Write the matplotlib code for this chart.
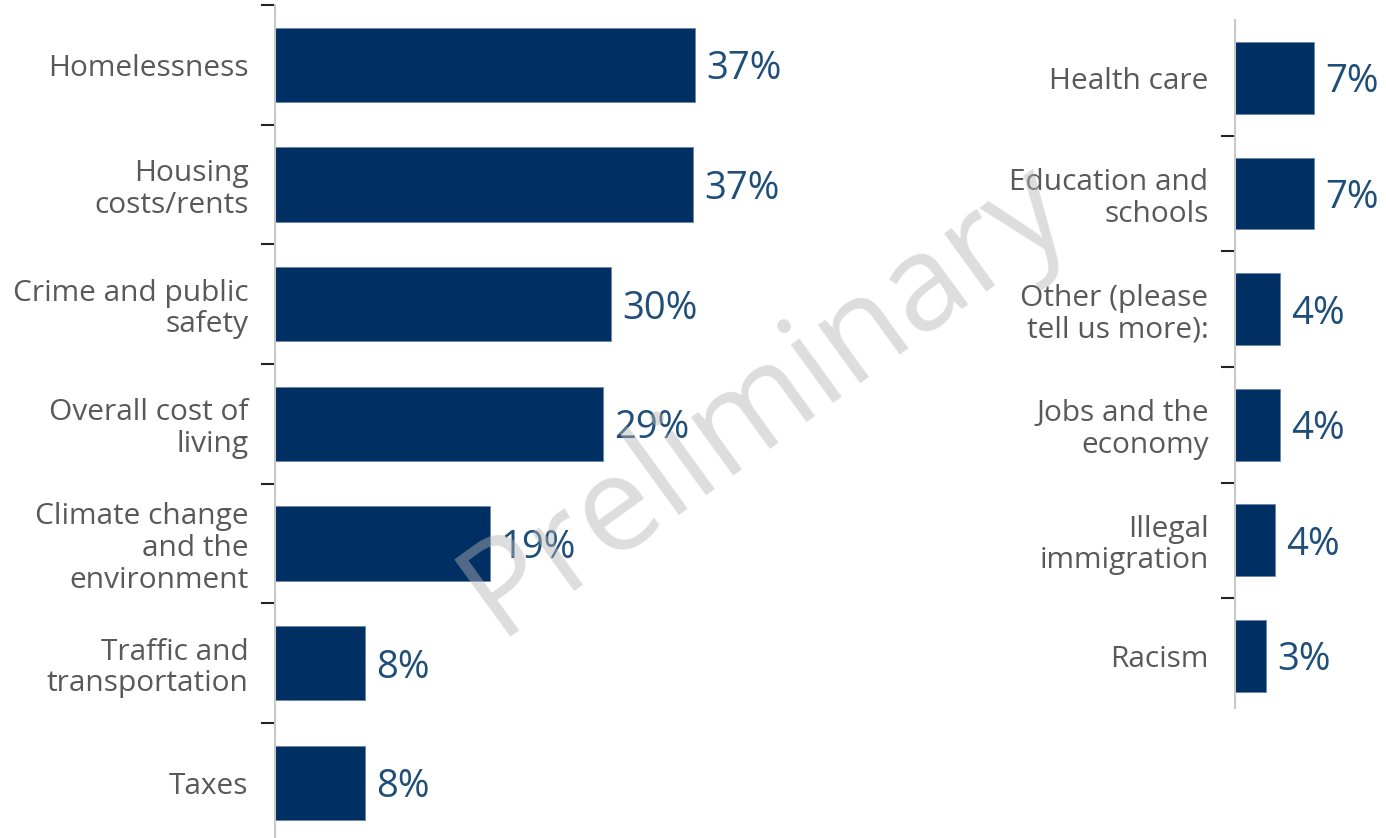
import matplotlib.pyplot as plt

left_labels = ["Homelessness", "Housing\ncosts/rents", "Crime and public\nsafety",
               "Overall cost of\nliving", "Climate change\nand the\nenvironment",
               "Traffic and\ntransportation", "Taxes"]
left_values = [37.0, 36.8, 29.6, 28.9, 18.9, 7.9, 7.9]

right_labels = ["Health care", "Education and\nschools", "Other (please\ntell us more):",
                "Jobs and the\neconomy", "Illegal\nimmigration", "Racism"]
right_values = [7.1, 7.1, 4.1, 4.1, 3.6, 2.8]

bar_color = "#003063"
val_color = "#1f4e79"
lab_color = "#595959"

plt.rcParams['font.family'] = ['Open Sans', 'DejaVu Sans']

fig = plt.figure(figsize=(13.86, 8.38), dpi=100)
W, H = 1386, 838


def panel(rect, labels, values, xmax, ylim, tick_pos, height):
    ax = fig.add_axes(rect)
    y = list(range(len(labels)))
    ax.barh(y, values, height=height, color=bar_color, edgecolor="#6a86a8", linewidth=0.6)
    for yi, v in zip(y, values):
        ax.annotate(f"{round(v)}%", (v, yi), xytext=(8, 0), textcoords="offset points",
                    va="center_baseline", ha="left", fontsize=27.5, color=val_color)
    ax.set_xlim(0, xmax)
    ax.set_ylim(*ylim)
    ax.set_yticks(y)
    ax.set_yticklabels(labels, fontsize=21.5, color=lab_color, linespacing=1.12)
    ax.tick_params(axis="y", length=0, pad=19)
    ax.set_yticks(tick_pos, minor=True)
    ax.tick_params(axis="y", which="minor", length=10, width=1.5, color="#222222")
    ax.set_xticks([])
    for s in ["top", "right", "bottom"]:
        ax.spines[s].set_visible(False)
    ax.spines["left"].set_color("#c8c8c8")
    ax.spines["left"].set_linewidth(1.5)
    return ax


# left panel: x 275 -> scale 11.35 px per %
panel([275 / W, 0, 454 / W, (838 - 5) / H], left_labels, left_values, 40,
      (6.46, -0.5), [-0.5, 0.5, 1.5, 2.5, 3.5, 4.5, 5.5], 0.62)

# right panel
panel([1235 / W, (838 - 708) / H, 133 / W, (708 - 20) / H], right_labels, right_values, 12,
      (5.45, -0.5), [0.5, 1.5, 2.5, 3.5, 4.5], 0.62)

fig.text(765 / W, 1 - 400 / H, "Preliminary", fontsize=96, color="#b4b4b4", alpha=0.45,
         rotation=36, ha="center", va="center")

fig.savefig("out.png", dpi=100)
